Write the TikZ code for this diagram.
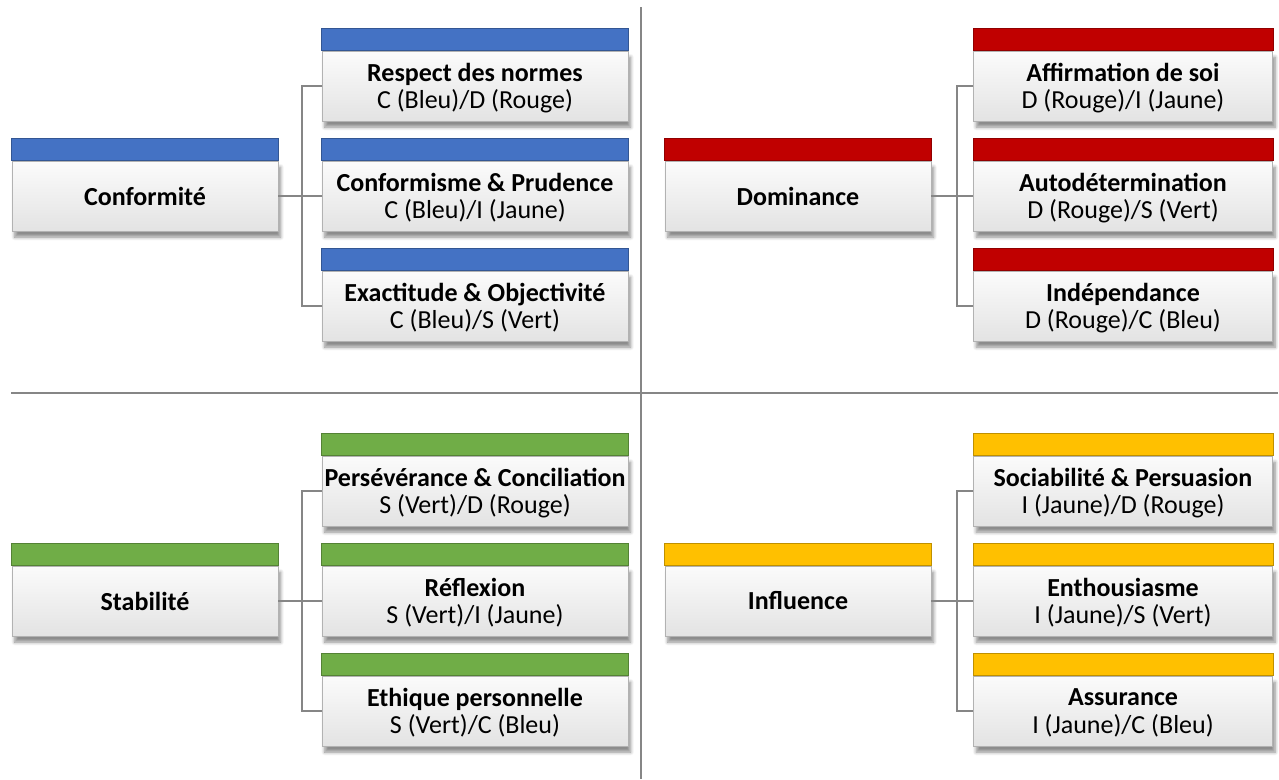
\documentclass[tikz,border=0pt]{standalone}
\usepackage{fontspec}
\setmainfont{Carlito}
\usetikzlibrary{shadows.blur}
\definecolor{bleu}{HTML}{4472C4}
\definecolor{rouge}{HTML}{C00000}
\definecolor{vert}{HTML}{70AD47}
\definecolor{jaune}{HTML}{FFC000}
\definecolor{trait}{HTML}{868686}
\tikzset{
  carte/.style={draw=gray!60, top color=gray!3, bottom color=gray!22,
    minimum height=1.4cm, align=center, inner sep=1pt,
    font=\fontsize{14.8}{15.5}\selectfont,
    blur shadow={shadow xshift=1.5pt, shadow yshift=-3.5pt, shadow opacity=45, shadow blur steps=6}},
  principal/.style={carte, minimum width=5.32cm},
  gauche/.style={carte, minimum width=6.12cm, text depth=0pt},
  droite/.style={carte, minimum width=5.98cm, text depth=0pt},
  lien/.style={draw=trait, line width=0.9pt},
  separe/.style={draw=trait, line width=1.4pt}
}
\begin{document}
\begin{tikzpicture}[x=0.02cm,y=-0.02cm]
\useasboundingbox (0,0) rectangle (1279,779);

\draw[separe] (641,7) -- (641,779);
\draw[separe] (11,393) -- (1278,393);

% Conformite
\node[principal] (conf) at (145,196) {\textbf{Conformité}};
\node[gauche] (resp) at (475,86) {\textbf{Respect des normes}\\C (Bleu)/D (Rouge)};
\node[gauche] (conp) at (475,196) {\textbf{Conformisme \& Prudence}\\C (Bleu)/I (Jaune)};
\node[gauche] (exac) at (475,306) {\textbf{Exactitude \& Objectivité}\\C (Bleu)/S (Vert)};

% Dominance
\node[principal] (domi) at (798,196) {\textbf{Dominance}};
\node[droite] (affi) at (1123,86) {\textbf{Affirmation de soi}\\D (Rouge)/I (Jaune)};
\node[droite] (auto) at (1123,196) {\textbf{Autodétermination}\\D (Rouge)/S (Vert)};
\node[droite] (inde) at (1123,306) {\textbf{Indépendance}\\D (Rouge)/C (Bleu)};

% Stabilite
\node[principal] (stab) at (145,601) {\textbf{Stabilité}};
\node[gauche] (pers) at (475,491) {\textbf{Persévérance \& Conciliation}\\S (Vert)/D (Rouge)};
\node[gauche] (refl) at (475,601) {\textbf{Réflexion}\\S (Vert)/I (Jaune)};
\node[gauche] (ethi) at (475,711) {\textbf{Ethique personnelle}\\S (Vert)/C (Bleu)};

% Influence
\node[principal] (infl) at (798,601) {\textbf{Influence}};
\node[droite] (soci) at (1123,491) {\textbf{Sociabilité \& Persuasion}\\I (Jaune)/D (Rouge)};
\node[droite] (enth) at (1123,601) {\textbf{Enthousiasme}\\I (Jaune)/S (Vert)};
\node[droite] (assu) at (1123,711) {\textbf{Assurance}\\I (Jaune)/C (Bleu)};

\foreach \n/\c in {conf/bleu,resp/bleu,conp/bleu,exac/bleu,
                   domi/rouge,affi/rouge,auto/rouge,inde/rouge,
                   stab/vert,pers/vert,refl/vert,ethi/vert,
                   infl/jaune,soci/jaune,enth/jaune,assu/jaune}
  \filldraw[fill=\c, draw=\c!75!black, line width=0.3pt] (\n.north west) rectangle ([yshift=0.44cm]\n.north east);

\coordinate (t1) at (302,196);
\coordinate (t2) at (957,196);
\coordinate (t3) at (302,601);
\coordinate (t4) at (957,601);

\draw[lien] (conf.east) -- (conp.west);
\draw[lien] (resp.west) -| (t1) |- (exac.west);
\draw[lien] (domi.east) -- (auto.west);
\draw[lien] (affi.west) -| (t2) |- (inde.west);
\draw[lien] (stab.east) -- (refl.west);
\draw[lien] (pers.west) -| (t3) |- (ethi.west);
\draw[lien] (infl.east) -- (enth.west);
\draw[lien] (soci.west) -| (t4) |- (assu.west);
\end{tikzpicture}
\end{document}
